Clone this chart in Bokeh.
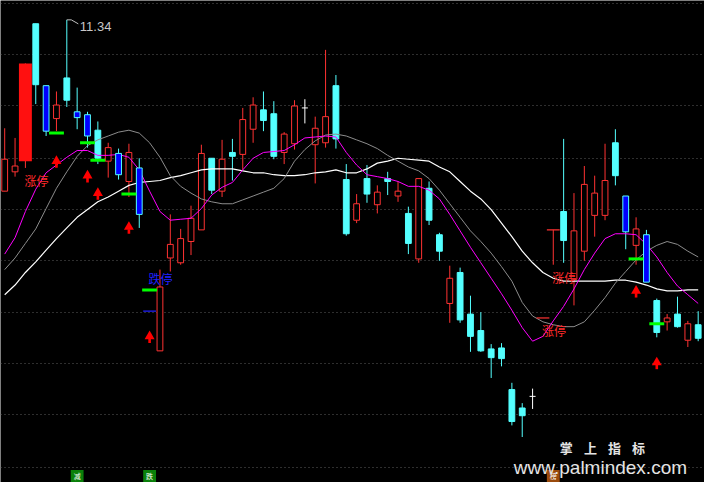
import numpy as np
from bokeh.plotting import figure
from bokeh.models import Range1d, Grid, FixedTicker
from bokeh.core.properties import value
from bokeh.embed import file_html
from bokeh.resources import INLINE

# ---------------- data ----------------
opens = [9.57, 9.77, 9.88, 11.30, 10.66, 10.32, 10.74, 10.39, 10.36, 10.20,
         9.88, 9.96, 9.67, 9.81, 8.33, 7.92, 8.88, 8.83, 9.05, 9.17,
         9.91, 9.57, 9.97, 9.95, 10.21, 10.41, 10.37, 9.97, 10.06, 10.43,
         10.05, 10.07, 10.66, 9.69, 9.27, 9.70, 9.43, 9.70, 9.52, 9.34,
         8.87, 9.60, 9.12, 8.41, 8.73, 8.30, 8.13, 7.94, 7.95, 7.52,
         7.33, 7.45, 8.26, 9.17, 9.36, 8.66, 8.95, 9.32, 9.32, 10.07,
         9.52, 9.01, 9.12, 8.44, 8.22, 8.30, 8.03, 8.19]
highs = [10.22, 10.12, 10.89, 11.30, 10.66, 10.60, 11.34, 10.64, 10.39, 10.29,
         10.07, 10.01, 10.06, 9.91, 8.33, 8.76, 9.33, 9.18, 9.42, 10.05,
         9.91, 10.10, 10.11, 10.43, 10.54, 10.60, 10.50, 10.18, 10.51, 10.52,
         10.34, 11.03, 10.77, 9.85, 9.54, 9.84, 9.63, 9.77, 9.67, 9.41,
         9.70, 9.67, 9.14, 8.80, 8.78, 8.49, 8.32, 7.99, 8.00, 7.59,
         7.38, 7.53, 8.26, 9.17, 10.11, 9.55, 9.83, 9.73, 10.06, 10.21,
         9.52, 9.30, 9.17, 8.46, 8.30, 8.48, 8.23, 8.33]
lows = [9.57, 9.72, 9.81, 10.47, 10.14, 10.19, 10.44, 10.21, 10.02, 9.85,
        9.71, 9.69, 9.51, 9.19, 8.33, 7.92, 8.74, 8.81, 8.91, 9.17,
        9.54, 9.51, 9.68, 9.79, 10.07, 10.19, 9.90, 9.85, 10.00, 10.27,
        9.65, 10.02, 10.01, 9.11, 9.24, 9.45, 9.34, 9.53, 9.46, 8.92,
        8.83, 9.22, 8.85, 8.21, 8.21, 7.91, 7.91, 7.64, 7.76, 7.15,
        7.03, 7.32, 8.26, 8.81, 8.83, 8.39, 8.85, 9.10, 9.27, 9.63,
        8.97, 8.81, 8.63, 8.06, 8.13, 8.16, 7.96, 8.02]
closes = [9.90, 9.83, 10.89, 10.67, 10.19, 10.46, 10.51, 10.33, 10.14, 9.91,
          10.02, 9.74, 9.97, 9.33, 8.33, 8.58, 9.02, 9.08, 9.29, 9.96,
          9.58, 9.90, 9.93, 10.31, 10.46, 10.30, 9.93, 10.16, 10.45, 10.43,
          10.22, 10.34, 10.11, 9.13, 9.44, 9.54, 9.56, 9.67, 9.57, 9.03,
          9.70, 9.27, 8.95, 8.67, 8.24, 8.07, 7.92, 7.85, 7.84, 7.19,
          7.25, 7.45, 8.26, 9.17, 9.06, 9.16, 9.64, 9.55, 9.68, 9.73,
          9.15, 9.18, 8.63, 8.11, 8.26, 8.17, 8.20, 8.05]

ma_fast = [8.92, 9.09, 9.36, 9.59, 9.76, 9.84, 9.92, 9.99, 9.99, 9.94,
           9.94, 9.95, 9.92, 9.79, 9.57, 9.36, 9.27, 9.28, 9.29, 9.39,
           9.53, 9.61, 9.66, 9.79, 9.91, 9.97, 9.98, 9.99, 10.05, 10.12,
           10.13, 10.14, 10.13, 9.97, 9.84, 9.74, 9.72, 9.70, 9.67, 9.62,
           9.62, 9.58, 9.49, 9.33, 9.16, 8.99, 8.83, 8.67, 8.51, 8.34,
           8.16, 8.02, 8.07, 8.23, 8.38, 8.56, 8.76, 8.93, 9.08, 9.13,
           9.13, 9.12, 9.02, 8.89, 8.73, 8.59, 8.50, 8.41]
ma_mid = [8.76, 8.88, 9.03, 9.18, 9.39, 9.60, 9.77, 9.93, 10.04, 10.10,
          10.14, 10.18, 10.20, 10.17, 10.07, 9.92, 9.73, 9.62, 9.55, 9.49,
          9.46, 9.44, 9.44, 9.48, 9.52, 9.56, 9.60, 9.70, 9.88, 10.00,
          10.09, 10.15, 10.16, 10.14, 10.10, 10.06, 10.01, 9.94, 9.88, 9.82,
          9.78, 9.70, 9.58, 9.44, 9.30, 9.16, 9.05, 8.93, 8.79, 8.64,
          8.42, 8.28, 8.22, 8.19, 8.17, 8.17, 8.22, 8.34, 8.47, 8.62,
          8.74, 8.86, 8.95, 9.01, 9.05, 9.02, 8.95, 8.89]
ma_slow = [8.50, 8.60, 8.73, 8.84, 8.96, 9.08, 9.19, 9.30, 9.38, 9.46,
           9.51, 9.57, 9.63, 9.66, 9.67, 9.68, 9.71, 9.73, 9.76, 9.79,
           9.80, 9.80, 9.80, 9.78, 9.76, 9.76, 9.74, 9.73, 9.73, 9.74,
           9.76, 9.77, 9.79, 9.76, 9.76, 9.80, 9.86, 9.88, 9.91, 9.90,
           9.89, 9.88, 9.82, 9.77, 9.67, 9.57, 9.49, 9.38, 9.24, 9.10,
           8.95, 8.83, 8.73, 8.67, 8.64, 8.64, 8.64, 8.64, 8.64, 8.65,
           8.65, 8.63, 8.60, 8.56, 8.54, 8.54, 8.55, 8.55]

limit_up_days = [3, 53, 54]
limit_down_days = [15]
blue_days = [5, 8, 9, 12, 14, 61, 63]
signal_days = [6, 9, 10, 13, 15, 62, 64]
signal_line = [10.17, 10.07, 9.89, 9.54, 8.55, 8.87, 8.20]
signal_arrow = [9.94, 9.79, 9.61, 9.26, 8.13, 8.60, 7.86]
tag_days = [8, 15, 54]
tag_text = ["减", "跌", "榜"]
tag_colors = ["#0a800a", "#0a800a", "#9a4a0c"]
grid_levels = [11.51, 10.98, 10.45, 9.91, 9.38, 8.85, 8.32, 7.79, 7.26, 6.72]

# ---------------- styles ----------------
RED = "#ff3232"
CYAN = "#54ffff"
BLUE = "#0000ff"
W, H = 704, 482
X0, X1 = 0.594, 68.61
Y0, Y1 = 6.56, 11.54
pxx = W / (X1 - X0)
pxy = H / (Y1 - Y0)

O = np.array(opens); Hh = np.array(highs); L = np.array(lows); C = np.array(closes)
n = len(O)
idx = np.arange(1, n + 1)
up = C > O
down = C < O
flat = C == O
lu = np.isin(idx, limit_up_days)
ld = np.isin(idx, limit_down_days)
bl = np.isin(idx, blue_days)

p = figure(width=W, height=H, output_backend="svg", toolbar_location=None,
           x_range=Range1d(X0, X1), y_range=Range1d(Y0, Y1),
           x_axis_type=None, y_axis_type=None, min_border=0,
           background_fill_color="black", border_fill_color="black",
           outline_line_color=None)
p.add_layout(Grid(dimension=1, ticker=FixedTicker(ticks=grid_levels),
                  grid_line_color="#5c5c5c", grid_line_dash="1 3", grid_line_width=1))

# wicks
wick_col = np.where(up | lu, RED, np.where(down, CYAN, "#ffffff"))
wm = ~ld
p.segment(x0=idx[wm], y0=L[wm], x1=idx[wm], y1=Hh[wm], line_color=list(wick_col[wm]), line_width=1)

BW = 0.56
m = up & ~lu
p.vbar(x=idx[m], top=C[m], bottom=O[m], width=BW, fill_color="black", line_color=RED, line_width=1)
m = down & ~bl
p.vbar(x=idx[m], top=O[m], bottom=C[m], width=BW, fill_color=CYAN, line_color=CYAN, line_width=1)
m = flat & ~lu & ~ld
p.segment(x0=idx[m] - 0.29, x1=idx[m] + 0.29, y0=O[m], y1=O[m], line_color="white", line_width=1)

# moving averages
p.line(idx, ma_slow, line_color="white", line_width=1.2)
p.line(idx, ma_mid, line_color="#8c8c8c", line_width=1)
p.line(idx, ma_fast, line_color="#ff00ff", line_width=1)

# highlighted bars
m = bl
p.vbar(x=idx[m], top=O[m], bottom=C[m], width=BW, fill_color=BLUE, line_color=CYAN, line_width=1)
m = lu & ~flat
p.vbar(x=idx[m], top=C[m], bottom=O[m], width=1.25, fill_color="#ff1010", line_color=None)
m = lu & flat
p.segment(x0=idx[m] - 0.62, x1=idx[m] + 0.62, y0=O[m], y1=O[m], line_color=RED, line_width=1.2)
m = ld
p.segment(x0=idx[m] - 0.62, x1=idx[m] + 0.62, y0=O[m], y1=O[m], line_color="#2020ff", line_width=1.2)

# signal markers
sd = np.array(signal_days)
p.segment(x0=sd - 0.72, x1=sd + 0.72, y0=signal_line, y1=signal_line, line_color="#00ff00", line_width=3)
sa = np.array(signal_arrow)
p.scatter(x=sd, y=sa - 5.77 / pxy, marker="triangle", size=10, fill_color="#ff0000", line_color=None)
p.segment(x0=sd, x1=sd, y0=sa - 8.0 / pxy, y1=sa - 12.5 / pxy, line_color="#ff0000", line_width=2.6)

# limit labels
cjk = value("Noto Sans CJK SC")
lud = np.array(limit_up_days)
p.text(x=lud, y=L[lud - 1], text=["涨停"] * len(lud), text_baseline="top", text_align="left",
       y_offset=4, x_offset=-1, text_font=cjk, text_font_size="12px", text_color="#ff2a2a")
ldd = np.array(limit_down_days)
p.text(x=ldd, y=Hh[ldd - 1], text=["跌停"] * len(ldd), text_baseline="bottom", text_align="left",
       y_offset=-24, x_offset=-1, text_font=cjk, text_font_size="12px", text_color="#2020ff")

# max price marker
imax = int(np.argmax(Hh))
hx, hy = idx[imax], Hh[imax]
p.line(x=[hx, hx + 4.5 / pxx, hx + 11.5 / pxx], y=[hy, hy, hy - 4 / pxy], line_color="#c0c0c0", line_width=1)
p.text(x=[hx], y=[hy], text=[f"{hy:.2f}"], x_offset=13, y_offset=7, text_baseline="middle",
       text_font=value("Liberation Sans"), text_font_size="13px", text_color="#c8c8c8")

# bottom tags (kept fully inside the frame)
td = np.array(tag_days)
tag_top = Y0 + 12.5 / pxy
tag_mid = Y0 + 6.5 / pxy
p.quad(left=td - 0.62, right=td + 0.62, top=tag_top, bottom=Y0 - 0.2, fill_color=tag_colors, line_color=None)
p.text(x=td, y=tag_mid, text=tag_text, text_align="center", text_baseline="middle",
       text_font=cjk, text_font_size="7px", text_color="white")

# watermark
wm_chars = list("掌上指标")
wx0 = 1 + (572 - 4.3) / 10.585
p.text(x=[wx0 + k * 2.324 for k in range(4)], y=[7.02] * 4, text=wm_chars, text_baseline="top",
       text_font=cjk, text_font_size="13px", text_font_style="bold", text_color="#e4e4e4")
p.text(x=[1 + (525 - 4.3) / 10.585], y=[6.72], text=["www.palmindex.com"], text_baseline="alphabetic",
       text_font=value("Liberation Sans"), text_font_size="19px", text_color="#e4e4e4")

open("out.html", "w").write(file_html(p, INLINE))
